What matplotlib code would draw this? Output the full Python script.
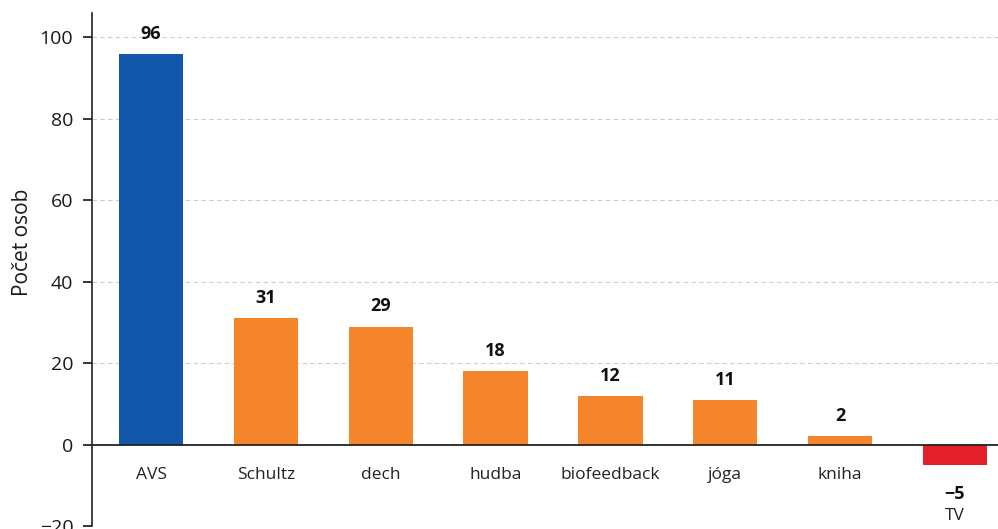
import numpy as np
import matplotlib.pyplot as plt

plt.rcParams["font.family"] = ["Open Sans", "DejaVu Sans"]

# data
categories = ["AVS", "Schultz", "dech", "hudba", "biofeedback", "jóga", "kniha", "TV"]
values = [96, 31, 29, 18, 12, 11, 2, -5]
bar_colors = ["#1257aa", "#f5852a", "#f5852a", "#f5852a", "#f5852a", "#f5852a", "#f5852a", "#e4202a"]
yticks = [-20, 0, 20, 40, 60, 80, 100]

fig = plt.figure(figsize=(9.98, 5.29), dpi=100)
ax = fig.add_axes([92 / 998, 3 / 529, 906 / 998, 513 / 529])

x = np.arange(len(categories))
ax.bar(x, values, width=0.56, color=bar_colors, zorder=2)

ax.set_xlim(-0.514, 7.375)
ax.set_ylim(-20, 106)
ax.set_yticks(yticks)
ax.set_yticklabels(["\u221220" if t < 0 else str(t) for t in yticks], fontsize=14, color="#1a1a1a")
ax.set_xticks([])

# grid (dashed, no line at 0 / -20)
for t in yticks:
    if t > 0:
        ax.axhline(t, color="#cccccc", lw=0.8, ls=(0, (4, 3)), zorder=0)
ax.axhline(0, color="#222222", lw=1.3, zorder=3)

for s in ["top", "right", "bottom"]:
    ax.spines[s].set_visible(False)
ax.spines["left"].set_color("#222222")
ax.spines["left"].set_linewidth(1.2)
ax.tick_params(axis="y", direction="out", length=6.5, width=1.1, pad=7)

fig.text(23 / 998, 1 - 242 / 529, "Počet osob", rotation=90, ha="center", va="center",
         fontsize=15, color="#1a1a1a")

# value and category labels
for xi, v, c in zip(x, values, categories):
    if v >= 0:
        ax.annotate(str(v), (xi, v), xytext=(0, 8), textcoords="offset points",
                    ha="center", va="bottom", fontsize=13, fontweight="bold", color="#111111")
        ax.annotate(c, (xi, 0), xytext=(0, -22), textcoords="offset points",
                    ha="center", va="center", fontsize=12.5, color="#222222")
    else:
        ax.annotate("\u2212" + str(-v), (xi, v), xytext=(0, -21), textcoords="offset points",
                    ha="center", va="center", fontsize=13, fontweight="bold", color="#111111")
        ax.annotate(c, (xi, v), xytext=(0, -37), textcoords="offset points",
                    ha="center", va="center", fontsize=12.5, color="#222222")

fig.savefig("out.png", dpi=100)
